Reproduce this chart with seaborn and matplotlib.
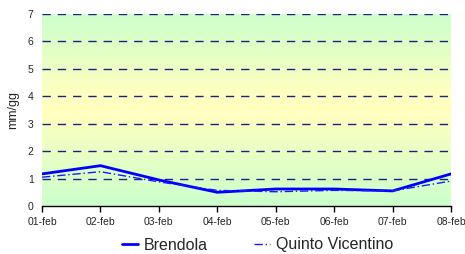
#!/usr/bin/env python3

import numpy as np
import pandas as pd
import seaborn as sns
import matplotlib.pyplot as plt
from matplotlib.colors import LinearSegmentedColormap

days = ["01-feb", "02-feb", "03-feb", "04-feb", "05-feb", "06-feb", "07-feb", "08-feb"]
brendola = [1.17, 1.47, 0.95, 0.50, 0.62, 0.62, 0.55, 1.17]
quinto = [1.05, 1.25, 0.88, 0.57, 0.52, 0.57, 0.55, 0.91]


def main():
    df = pd.DataFrame({
        "idx": list(range(len(days))) * 2,
        "value": brendola + quinto,
        "station": ["Brendola"] * len(days) + ["Quinto Vicentino"] * len(days),
    })

    sns.set_style("white")
    plt.rcParams["font.family"] = ["Liberation Sans", "DejaVu Sans"]

    fig = plt.figure(figsize=(4.65, 2.54), dpi=100)
    ax = fig.add_axes([42 / 465, 1 - 206 / 254, 409 / 465, 192 / 254])

    # background gradient green -> yellow -> green
    cmap = LinearSegmentedColormap.from_list(
        "bg", [(0.0, "#ccffcc"), (0.48, "#ffffc0"), (0.58, "#ffffc0"), (1.0, "#ccffcc")])
    grad = np.linspace(0, 1, 256).reshape(-1, 1)
    ax.imshow(grad, cmap=cmap, aspect="auto", extent=[0, 7, 0, 7],
              origin="lower", zorder=0)

    for y in range(1, 8):
        ax.axhline(y, color="#1a237e", lw=1.0, ls=(0, (6, 5)), zorder=1)

    sns.lineplot(data=df, x="idx", y="value", hue="station", style="station",
                 palette={"Brendola": "#0000ff", "Quinto Vicentino": "#1a1aff"},
                 dashes={"Brendola": "", "Quinto Vicentino": (6, 2, 1, 2)},
                 size="station", sizes={"Brendola": 2.0, "Quinto Vicentino": 1.0},
                 ax=ax, zorder=3, legend=True)

    ax.set_xlim(0, 7)
    ax.set_ylim(0, 7)
    ax.set_xticks(range(len(days)))
    ax.set_xticklabels(days)
    ax.set_yticks(range(0, 8))
    ax.tick_params(axis="x", direction="out", length=4, width=1, color="black",
                   labelsize=7.5, pad=4, bottom=True)
    ax.tick_params(axis="y", length=0, labelsize=7.5, pad=6)
    for s in ["top", "right", "left"]:
        ax.spines[s].set_visible(False)
    ax.spines["bottom"].set_color("black")
    ax.spines["bottom"].set_linewidth(1)
    ax.spines["bottom"].set_zorder(4)
    ax.set_xlabel("")
    ax.set_ylabel("mm/gg", fontsize=9, labelpad=6)

    handles, labels = ax.get_legend_handles_labels()
    ax.get_legend().remove()
    fig.legend(handles, labels, loc="center", bbox_to_anchor=(0.554, 1 - 245 / 254),
               ncol=2, frameon=False, fontsize=11.5, handlelength=1.0,
               columnspacing=2.9, handletextpad=0.35)

    plt.savefig("out.png", dpi=100)


if __name__ == "__main__":
    main()
